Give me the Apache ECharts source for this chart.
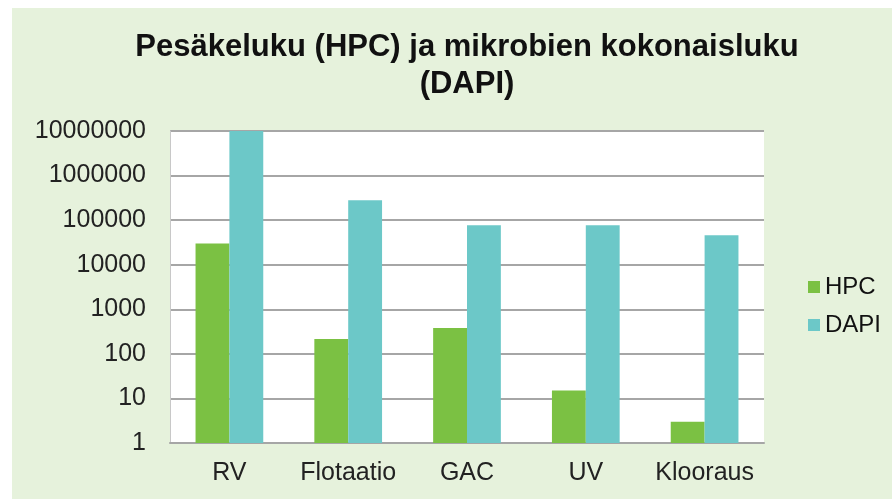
<!DOCTYPE html>
<html>
<head>
<meta charset="utf-8">
<style>
  html, body { margin: 0; padding: 0; background: #fff; }
  #main { width: 892px; height: 499px; }
</style>
<script src="https://cdn.jsdelivr.net/npm/echarts@6/dist/echarts.min.js"></script>
</head>
<body>
<div id="main"></div>
<script>
var categories = ['RV', 'Flotaatio', 'GAC', 'UV', 'Klooraus'];
var hpcValues = [30000, 215, 380, 15, 3];
var dapiValues = [10000000, 280000, 77000, 77000, 46000];

var chart = echarts.init(document.getElementById('main'));
var option = {
    backgroundColor: '#ffffff',
    textStyle: { fontFamily: 'Liberation Sans, Arial, sans-serif' },
    graphic: [
        { type: 'rect', left: 12, top: 8, z: -10, shape: { width: 880, height: 491 }, style: { fill: '#e6f2dc' } }
    ],
    title: {
        text: 'Pesäkeluku (HPC) ja mikrobien kokonaisluku\n(DAPI)',
        left: 462,
        top: 24,
        textAlign: 'center',
        textStyle: { fontSize: 31, fontWeight: 'bold', color: '#111', lineHeight: 37 }
    },
    legend: {
        orient: 'vertical',
        left: 803,
        top: 270,
        itemWidth: 12,
        itemHeight: 12,
        itemGap: 14,
        icon: 'rect',
        textStyle: { fontSize: 24, color: '#111' },
        data: ['HPC', 'DAPI']
    },
    grid: {
        left: 170,
        right: 128,
        top: 131,
        bottom: 56,
        show: true,
        backgroundColor: '#ffffff',
        borderWidth: 0
    },
    xAxis: {
        type: 'category',
        data: categories,
        axisTick: { show: false },
        axisLine: { lineStyle: { color: '#a6a6a6', width: 2 } },
        axisLabel: { fontSize: 25, color: '#222', margin: 18, interval: 0 }
    },
    yAxis: {
        type: 'log',
        logBase: 10,
        min: 1,
        max: 10000000,
        axisLine: { show: true, lineStyle: { color: '#c8c8c8', width: 1 } },
        axisTick: { show: false },
        splitLine: { lineStyle: { color: '#a6a6a6', width: 2 } },
        axisLabel: {
            fontSize: 25,
            color: '#222',
            margin: 24,
            formatter: function (v) { return String(Math.round(v)); }
        }
    },
    series: [
        {
            name: 'HPC',
            type: 'bar',
            data: hpcValues,
            barGap: '0%',
            barCategoryGap: '43%',
            itemStyle: { color: '#7bc143' }
        },
        {
            name: 'DAPI',
            type: 'bar',
            data: dapiValues,
            itemStyle: { color: '#6cc8c8' }
        }
    ]
};
chart.setOption(option);
</script>
</body>
</html>
